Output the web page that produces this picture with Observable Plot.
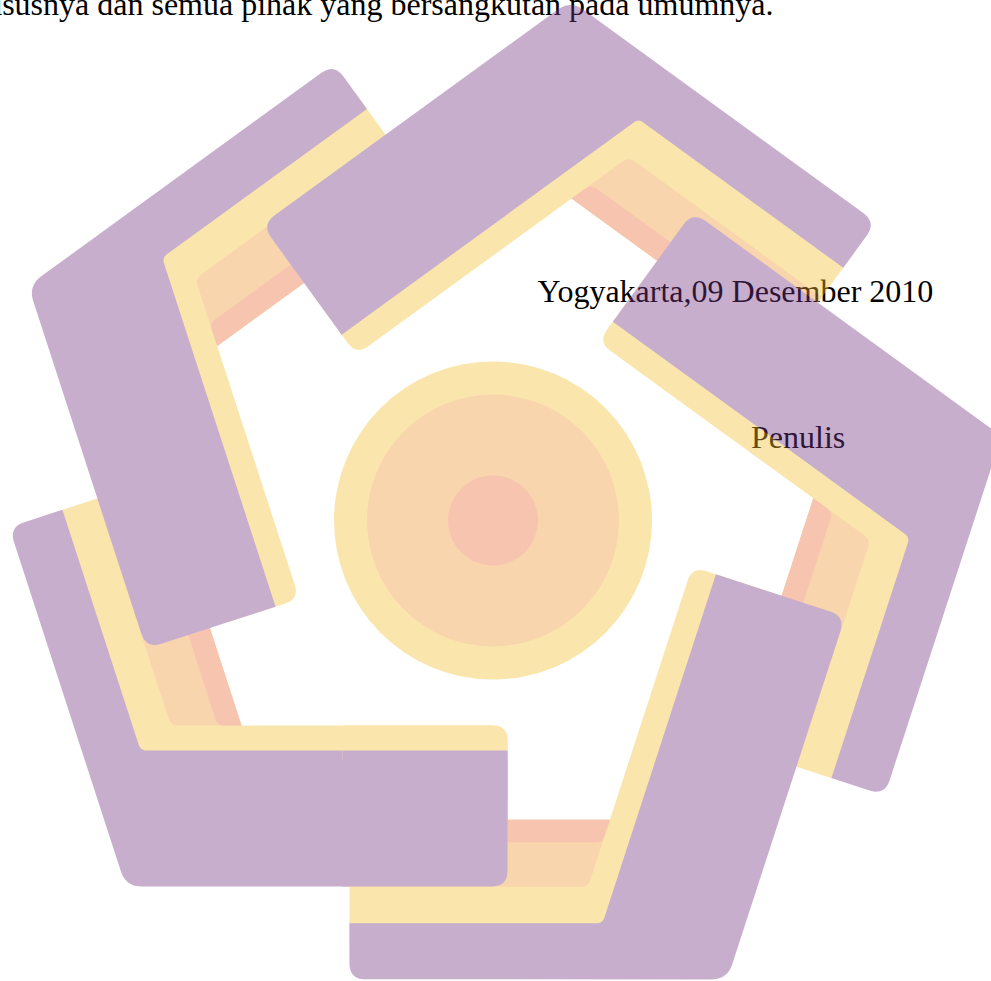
<!DOCTYPE html>
<html>
<head>
<meta charset="utf-8">
<script src="https://cdn.jsdelivr.net/npm/d3@7"></script>
<script src="https://cdn.jsdelivr.net/npm/@observablehq/plot@0.6"></script>
<style>
  html, body { margin: 0; padding: 0; background: #fff; overflow: hidden; }
  #chart { position: relative; width: 991px; height: 981px; overflow: hidden; }
  #chart svg { display: block; overflow: hidden; }
</style>
</head>
<body>
<div id="chart"></div>
<script>
// ---------- text content ----------
const textLines   = ["khususnya dan semua pihak yang bersangkutan pada umumnya.", "Yogyakarta,09 Desember 2010", "Penulis"];
const textX       = [773, 537, 750.5];
const textY       = [14, 301, 447];
const textAnchors = ["end", "start", "start"];

// ---------- watermark logo ----------
const logoOpacity = 0.4;
const layerNames  = ["yellow", "orange", "salmon", "purple"];
const layerColors = ["#F5C032", "#F09832", "#EB6E3A", "#763784"];

// centre circles
const circleCenter = [492.5, 520];
const circleRadii  = [159, 126, 45];
const circleLayers = ["yellow", "orange", "salmon"];

// one arm (bottom-left one) : vertices [x, y, cornerRadius]
const armCenter = [490, 518.5];
const armAngles = [0, 72, 144, 216, 288];
const armShift  = [[0, 0], [0, 0], [1, -7], [0, 0], [0, 0]];
const armYellow = [[42.9, 515.5, 0], [160.5, 477.3, 0], [241.0, 725, 0], [507, 725, 15], [507, 800, 0], [135.3, 800, 0]];
const armOrange = [[96.6, 498.0, 0], [160.5, 477.3, 0], [241.0, 725, 0], [170.4, 725, 10]];
const armSalmon = [[138.9, 484.3, 0], [160.5, 477.3, 0], [241.0, 725, 0], [217.1, 725, 10]];
const armPurple = [[8.6, 526.6, 16], [61.9, 509.3, 0], [140.1, 750, 8], [507, 750, 0], [507, 886, 16], [125.3, 886, 22]];
// the horizontal band of the first arm lies over the last arm (pinwheel)
const bandYellow = [[342, 725, 0], [507, 725, 15], [507, 760, 0], [342, 760, 0]];
const bandPurple = [[342, 750, 0], [507, 750, 0], [507, 886, 16], [342, 886, 0]];

const colorOf = name => layerColors[layerNames.indexOf(name)];

function roundPoly(verts, steps = 10) {
  const n = verts.length, out = [];
  for (let i = 0; i < n; i++) {
    const [x, y, r] = verts[i];
    if (!r) { out.push([x, y]); continue; }
    const [px, py] = verts[(i - 1 + n) % n];
    const [nx, ny] = verts[(i + 1) % n];
    let ax = px - x, ay = py - y, bx = nx - x, by = ny - y;
    const la = Math.hypot(ax, ay), lb = Math.hypot(bx, by);
    ax /= la; ay /= la; bx /= lb; by /= lb;
    const ang = Math.acos(Math.max(-1, Math.min(1, ax * bx + ay * by)));
    const d = Math.min(r / Math.tan(ang / 2), la / 2, lb / 2);
    const t0 = [x + ax * d, y + ay * d], t1 = [x + bx * d, y + by * d];
    for (let k = 0; k <= steps; k++) {
      const t = k / steps, u = 1 - t;
      out.push([u * u * t0[0] + 2 * u * t * x + t * t * t1[0],
                u * u * t0[1] + 2 * u * t * y + t * t * t1[1]]);
    }
  }
  return out;
}
function place([x, y], i) {
  const a = armAngles[i] * Math.PI / 180, c = Math.cos(a), s = Math.sin(a);
  const dx = x - armCenter[0], dy = y - armCenter[1];
  return [armCenter[0] + c * dx - s * dy + armShift[i][0], armCenter[1] + s * dx + c * dy + armShift[i][1]];
}

const shapeRows = [];
let sid = 0;
function addShape(verts, i, layer) {
  const id = sid++;
  for (const p of roundPoly(verts)) {
    const [x, y] = place(p, i);
    shapeRows.push({id, x, y, color: colorOf(layer)});
  }
}
armAngles.forEach((_, i) => {
  addShape(armYellow, i, "yellow");
  addShape(armOrange, i, "orange");
  addShape(armSalmon, i, "salmon");
  addShape(armPurple, i, "purple");
});
addShape(bandYellow, 0, "yellow");
addShape(bandPurple, 0, "purple");

const circleRows = circleRadii.map((r, i) => ({x: circleCenter[0], y: circleCenter[1], r, color: colorOf(circleLayers[i])}));
const textRows = textLines.map((t, i) => ({text: t, x: textX[i], y: textY[i], anchor: textAnchors[i]}));

const font = {fontFamily: "'Liberation Serif', 'Times New Roman', serif", fontSize: 32, fill: "#000", lineAnchor: "bottom"};

const svg = Plot.plot({
  width: 991, height: 981, margin: 0,
  x: {domain: [0, 991], range: [0, 991], axis: null},
  y: {domain: [0, 981], range: [0, 981], axis: null},
  r: {type: "identity"},
  color: {type: "identity"},
  style: {background: "transparent", overflow: "hidden"},
  marks: [
    Plot.text(textRows.filter(d => d.anchor === "end"), {x: "x", y: "y", text: "text", textAnchor: "end", ...font}),
    Plot.text(textRows.filter(d => d.anchor === "start"), {x: "x", y: "y", text: "text", textAnchor: "start", ...font}),
    Plot.dot(circleRows, {x: "x", y: "y", r: "r", fill: "color", stroke: null}),
    Plot.line(shapeRows, {x: "x", y: "y", z: "id", fill: "color", stroke: "none", curve: "linear-closed"})
  ]
});

// fade the whole logo as one layer above the text
const g = document.createElementNS("http://www.w3.org/2000/svg", "g");
g.setAttribute("opacity", logoOpacity);
for (const el of [...svg.querySelectorAll(':scope > g[aria-label="dot"], :scope > g[aria-label="line"]')]) g.appendChild(el);
svg.appendChild(g);

document.getElementById("chart").appendChild(svg);
</script>
</body>
</html>
